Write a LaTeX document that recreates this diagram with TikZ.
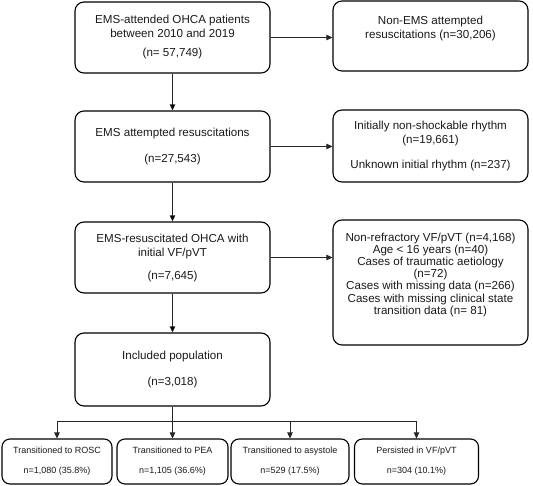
\documentclass[tikz,border=0pt]{standalone}
\usepackage{fontspec}
\setmainfont{Liberation Sans}
\usetikzlibrary{arrows.meta}
\begin{document}
\begin{tikzpicture}[x=1pt,y=-1pt]
          \useasboundingbox (0,0) rectangle (533,486);
          \tikzset{arr/.style={draw=black!85, line width=0.75pt, -{Triangle[length=6pt,width=5.5pt]}}}
          \tikzstyle{every node} = [draw, rounded corners=9pt, line width=1.1pt, align=center, inner sep=0pt, minimum width=195pt, minimum height=71pt, text=black!90, font=\fontsize{11.6}{14}\selectfont];
          \node(1) at (172.5,37.5) {EMS-attended OHCA patients\\between 2010 and 2019\\[5pt](n= 57,749)};
          \node(2) at (172.5,146.5) {EMS attempted resuscitations\\[12pt](n=27,543)};
          \node(3) at (172.5,257.5) {EMS-resuscitated OHCA with\\initial VF/pVT\\[9pt](n=7,645)};
          \node[minimum height=73pt](4) at (172.5,369.5) {Included population\\[12pt](n=3,018)};
          \node[minimum height=70pt](5) at (430.5,36) {Non-EMS attempted\\resuscitations (n=30,206)\\[4pt]};
          \node[minimum height=72pt](6) at (430.5,146) {Initially non-shockable rhythm\\(n=19,661)\\[11pt]Unknown initial rhythm (n=237)};
          \node[minimum height=125pt, font=\fontsize{11.6}{12.2}\selectfont](7) at (430.5,282.5) {Non-refractory VF/pVT (n=4,168)\\Age < 16 years (n=40)\\Cases of traumatic aetiology\\(n=72)\\Cases with missing data (n=266)\\Cases with missing clinical state\\transition data (n= 81)\\[6pt]};
          \tikzstyle{every node} = [draw, rounded corners=8pt, line width=1.1pt, align=center, inner sep=0pt, minimum height=45pt, text=black!90, font=\fontsize{9}{11}\selectfont];
          \node[minimum width=110pt](8) at (57,461.5) {Transitioned to ROSC\\[9pt]n=1,080 (35.8\%)};
          \node[minimum width=111pt](9) at (172.5,461.5) {Transitioned to PEA\\[9pt]n=1,105 (36.6\%)};
          \node[minimum width=118pt](10) at (290,461.5) {Transitioned to asystole\\[9pt]n=529 (17.5\%)};
          \node[minimum width=124pt](11) at (416.5,461.5) {Persisted in VF/pVT\\[9pt]n=304 (10.1\%)};
          \tikzstyle{every node} = []
          \coordinate (split) at (172.5,421);
          \path[arr]
          (1) edge (2);
          \path[arr]
          (2) edge (3);
          \path[arr]
          (3) edge (4);
          \draw[arr] (1.east) -- (1.east -| 5.west);
          \draw[arr] (2.east) -- (2.east -| 6.west);
          \draw[arr] (3.east) -- (3.east -| 7.west);
          \draw[draw=black!85, line width=0.75pt] (4) -- (split);
          \foreach \n in {8,9,10,11}
            \draw[arr] (split) -| (\n.north);
\end{tikzpicture}
\end{document}
